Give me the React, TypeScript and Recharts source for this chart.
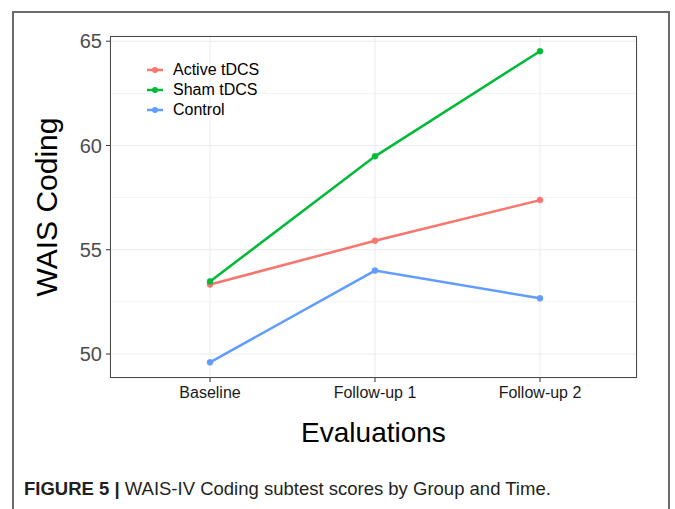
import { LineChart, Line, XAxis, YAxis, CartesianGrid, ReferenceLine, Label } from "recharts"

const evaluations = ["Baseline", "Follow-up 1", "Follow-up 2"]
const activeTdcs = [53.33, 55.43, 57.38]
const shamTdcs = [53.48, 59.48, 64.52]
const control = [49.6, 54.0, 52.67]
const yTicks = [50, 55, 60, 65]
const minorTicks = [52.5, 57.5, 62.5]

const data = evaluations.map((name, i) => ({
  name,
  active: activeTdcs[i],
  sham: shamTdcs[i],
  control: control[i],
}))

const series = [
  { key: "active", label: "Active tDCS", color: "#F8766D" },
  { key: "sham", label: "Sham tDCS", color: "#00BA38" },
  { key: "control", label: "Control", color: "#619CFF" },
]

const FONT = "'Liberation Sans', Arial, sans-serif"

export default function App() {
  return (
    <div style={{ position: "absolute", left: 0, top: 0, width: 675, height: 509, background: "#fff", fontFamily: FONT, overflow: "hidden" }}>
      {/* figure frame */}
      <div
        style={{
          position: "absolute",
          left: 12,
          top: 11,
          width: 658,
          height: 520,
          border: "2px solid #6b6b6b",
          boxSizing: "border-box",
        }}
      />
      <div style={{ position: "absolute", left: 0, top: 0 }}>
        <LineChart width={675} height={509} data={data} margin={{ top: 36, right: 38, bottom: 61, left: 30 }}>
          <CartesianGrid stroke="#ebebeb" strokeWidth={1} />
          {minorTicks.map((v) => (
            <ReferenceLine key={v} y={v} stroke="#f3f3f3" strokeWidth={1} />
          ))}
          <XAxis
            dataKey="name"
            padding={{ left: 100, right: 97 }}
            height={70}
            tickSize={4}
            tickMargin={5}
            tick={{ fill: "#1a1a1a", fontSize: 16, fontFamily: FONT }}
            axisLine={false}
            tickLine={{ stroke: "#333" }}
          >
            <Label value="Evaluations" position="insideBottom" offset={6} style={{ fontSize: 28, fill: "#000", fontFamily: FONT }} />
          </XAxis>
          <YAxis
            domain={[48.85, 65.25]}
            ticks={yTicks}
            width={80}
            tickSize={4}
            tickMargin={4}
            tick={{ fill: "#4d4d4d", fontSize: 20, fontFamily: FONT }}
            axisLine={false}
            tickLine={{ stroke: "#333" }}
            allowDataOverflow
          >
            <Label
              content={({ viewBox }: any) => {
                const cx = viewBox.x + 16
                const cy = viewBox.y + viewBox.height / 2
                return (
                  <text
                    x={cx}
                    y={cy}
                    transform={`rotate(-90 ${cx} ${cy})`}
                    textAnchor="middle"
                    dominantBaseline="central"
                    style={{ fontSize: 30, fill: "#000", fontFamily: FONT }}
                  >
                    WAIS Coding
                  </text>
                )
              }}
            />
          </YAxis>
          {series.map((s) => (
            <Line
              key={s.key}
              dataKey={s.key}
              name={s.label}
              stroke={s.color}
              strokeWidth={2.5}
              dot={{ r: 3, fill: s.color, stroke: s.color, strokeWidth: 0.5 }}
              isAnimationActive={false}
            />
          ))}
        </LineChart>
      </div>
      {/* panel border */}
      <div
        style={{
          position: "absolute",
          left: 110,
          top: 36,
          width: 527,
          height: 342,
          border: "1.5px solid #4a4a4a",
          boxSizing: "border-box",
          pointerEvents: "none",
        }}
      />
      {/* legend */}
      <div style={{ position: "absolute", left: 145, top: 60, fontSize: 16, lineHeight: "20px", color: "#000" }}>
        {series.map((s) => (
          <div key={s.key} style={{ display: "flex", alignItems: "center", height: 20 }}>
            <svg width={20} height={10} style={{ marginRight: 8 }}>
              <line x1={2} y1={5} x2={18} y2={5} stroke={s.color} strokeWidth={2.5} />
              <circle cx={10} cy={5} r={3} fill={s.color} />
            </svg>
            {s.label}
          </div>
        ))}
      </div>
      <div style={{ position: "absolute", left: 24, top: 478, fontSize: 18.5, color: "#231f20", whiteSpace: "nowrap" }}>
        <b>FIGURE 5 |</b> WAIS-IV Coding subtest scores by Group and Time.
      </div>
    </div>
  )
}
